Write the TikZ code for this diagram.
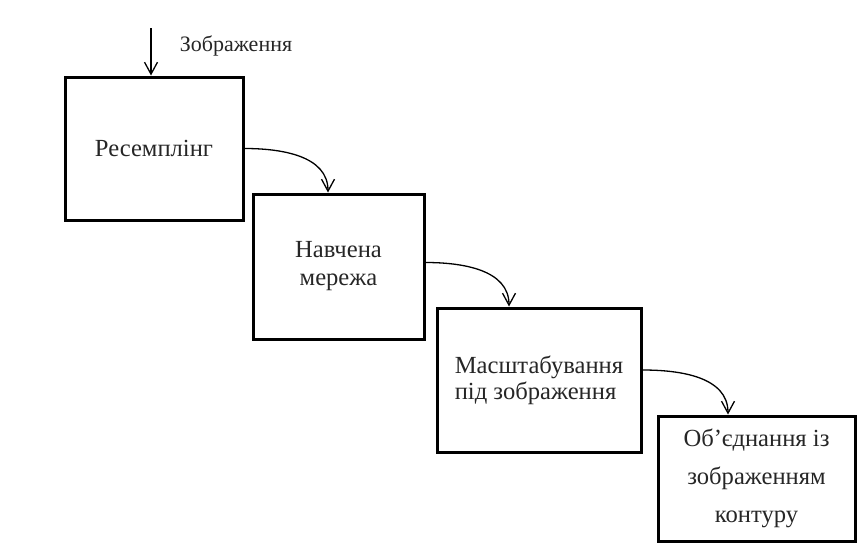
\documentclass[tikz,border=0pt]{standalone}
\usepackage{fontspec}
\setmainfont{Liberation Serif}
\usetikzlibrary{arrows.meta}
\begin{document}
\begin{tikzpicture}[x=1pt,y=1pt,>={Straight Barb[length=12pt,width=13pt]},
  block/.style={draw,line width=3pt,inner sep=0pt,text=black!85,
    font=\fontsize{24.6}{28}\selectfont},
  flow/.style={->,line width=1.3pt}]
  \useasboundingbox (0,0) rectangle (859,-552);
  \node[block,minimum width=178pt,minimum height=143pt] (res) at (154,-148.5) {Ресемплінг};
  \node[block,minimum width=171pt,minimum height=145pt,align=center] (net) at (338.5,-266.5) {Навчена\\мережа};
  \node[block,minimum width=204pt,minimum height=144pt,align=left,
    font=\fontsize{24.6}{26}\selectfont] (scale) at (539,-380) {Масштабування\\під зображення};
  \node[block,minimum width=197pt,minimum height=125pt,align=center,
    font=\fontsize{24.6}{38}\selectfont] (merge) at (756.5,-478.5) {Об’єднання із\\зображенням\\контуру};
  \coordinate (img) at (151,-28);
  \node[text=black!85,font=\fontsize{22}{25}\selectfont] (imglbl) at (236,-46) {Зображення};
  \draw[flow] (img) -- (img |- res.north);
  \draw[flow] (res.east) to[out=0,in=90] ([xshift=-10.5pt]net.north);
  \draw[flow] ([yshift=4pt]net.east) to[out=0,in=90] ([xshift=-30pt]scale.north);
  \draw[flow] ([yshift=10pt]scale.east) to[out=0,in=90] ([xshift=-28.5pt]merge.north);
\end{tikzpicture}
\end{document}
